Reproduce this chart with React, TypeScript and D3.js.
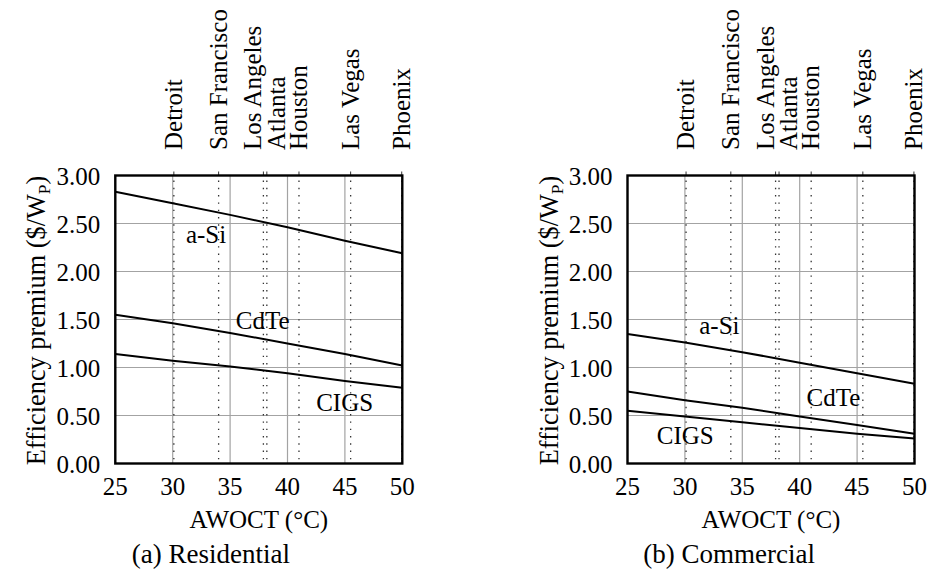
import React from "react";
import * as d3 from "d3";

// AWOCT sample points (°C) and efficiency premium ($/Wp) per technology
const temps = [25, 30, 35, 40, 45, 50];
const resASi = [2.83, 2.71, 2.59, 2.46, 2.32, 2.19];
const resCdTe = [1.55, 1.46, 1.36, 1.25, 1.14, 1.02];
const resCIGS = [1.14, 1.07, 1.01, 0.94, 0.86, 0.79];
const comASi = [1.35, 1.26, 1.16, 1.05, 0.94, 0.83];
const comCdTe = [0.75, 0.66, 0.58, 0.49, 0.4, 0.31];
const comCIGS = [0.55, 0.49, 0.43, 0.37, 0.31, 0.26];

// Reference cities and their AWOCT
const cities = ["Detroit", "San Francisco", "Los Angeles", "Atlanta", "Houston", "Las Vegas", "Phoenix"];
const cityTemps = [30.1, 34.0, 37.9, 38.2, 41.0, 45.5, 49.95];
// horizontal nudge of the rotated city names so close neighbours don't collide
const cityNudge = [0, 0, -10, 10, 0, 0, 0];

const xTicks = [25, 30, 35, 40, 45, 50];
const yTicks = [0, 0.5, 1, 1.5, 2, 2.5, 3];

// series label anchors (AWOCT, premium)
const resLabels = [
  { name: "a-Si", t: 31.15, v: 2.3 },
  { name: "CdTe", t: 35.5, v: 1.4 },
  { name: "CIGS", t: 42.5, v: 0.55 },
];
const comLabels = [
  { name: "a-Si", t: 31.25, v: 1.35 },
  { name: "CdTe", t: 40.6, v: 0.6 },
  { name: "CIGS", t: 27.55, v: 0.2 },
];

const FONT = '"Liberation Serif", "DejaVu Serif", serif';
const FS = 25;

type PanelProps = {
  x0: number;
  series: number[][];
  labels: { name: string; t: number; v: number }[];
  caption: string;
  captionX: number;
};

function Panel({ x0, series, labels, caption, captionX }: PanelProps) {
  const W = 287;
  const top = 175.5;
  const bottom = 463.5;
  const x = d3.scaleLinear().domain([25, 50]).range([x0, x0 + W]);
  const y = d3.scaleLinear().domain([0, 3]).range([bottom, top]);
  const line = d3
    .line<number>()
    .x((_, i) => x(temps[i]))
    .y((d) => y(d));

  return (
    <g style={{ fontFamily: FONT, fontSize: FS }} fill="#000">
      {/* grid */}
      {yTicks.map((t) => (
        <line key={"gy" + t} x1={x(25)} x2={x(50)} y1={y(t)} y2={y(t)} stroke="#a3a3a3" strokeWidth={1.2} />
      ))}
      {xTicks.map((t) => (
        <line key={"gx" + t} x1={x(t)} x2={x(t)} y1={top} y2={bottom} stroke="#a3a3a3" strokeWidth={1.2} />
      ))}
      {/* city markers */}
      {cityTemps.map((t, i) => (
        <g key={"c" + i}>
          <line x1={x(t)} x2={x(t)} y1={top + 5} y2={bottom} stroke="#333" strokeWidth={1.3} strokeDasharray="1.4 5.9" />
          <line x1={x(t)} x2={x(t)} y1={top - 4} y2={top} stroke="#333" strokeWidth={1} />
          <text
            transform={`translate(${x(t) + cityNudge[i] + 8},150) rotate(-90)`}
            textAnchor="start"
          >
            {cities[i]}
          </text>
        </g>
      ))}
      {/* series */}
      {series.map((s, i) => (
        <path key={"s" + i} d={line(s) || ""} fill="none" stroke="#000" strokeWidth={2} />
      ))}
      {labels.map((l) => (
        <text key={l.name} x={x(l.t)} y={y(l.v)}>
          {l.name}
        </text>
      ))}
      {/* frame */}
      <rect x={x(25)} y={top} width={W} height={bottom - top} fill="none" stroke="#000" strokeWidth={2.4} />
      {/* tick labels */}
      {yTicks.map((t) => (
        <text key={"ty" + t} x={x0 - 15} y={y(t) + 9.5} textAnchor="end">
          {d3.format(".2f")(t)}
        </text>
      ))}
      {xTicks.map((t) => (
        <text key={"tx" + t} x={x(t)} y={495} textAnchor="middle">
          {t}
        </text>
      ))}
      {/* axis titles */}
      <text x={x0 + W / 2} y={528} textAnchor="middle">
        AWOCT (°C)
      </text>
      <text
        transform={`translate(${x0 - 70},${(top + bottom) / 2 + 1}) rotate(-90)`}
        textAnchor="middle"
        style={{ fontSize: 26.3 }}
      >
        Efficiency premium ($/W
        <tspan style={{ fontSize: 17.5 }} dy={5}>P</tspan>
        <tspan dy={-5}>)</tspan>
      </text>
      <text x={captionX} y={563} style={{ fontSize: 27 }}>
        {caption}
      </text>
    </g>
  );
}

export default function App() {
  return (
    <div style={{ position: "absolute", left: 0, top: 0 }}>
      <svg width={932} height={577} style={{ display: "block", background: "#fff" }}>
        <Panel
          x0={115.3}
          series={[resASi, resCdTe, resCIGS]}
          labels={resLabels}
          caption="(a)  Residential"
          captionX={131.7}
        />
        <Panel
          x0={627.5}
          series={[comASi, comCdTe, comCIGS]}
          labels={comLabels}
          caption="(b)  Commercial"
          captionX={643.3}
        />
      </svg>
    </div>
  );
}
